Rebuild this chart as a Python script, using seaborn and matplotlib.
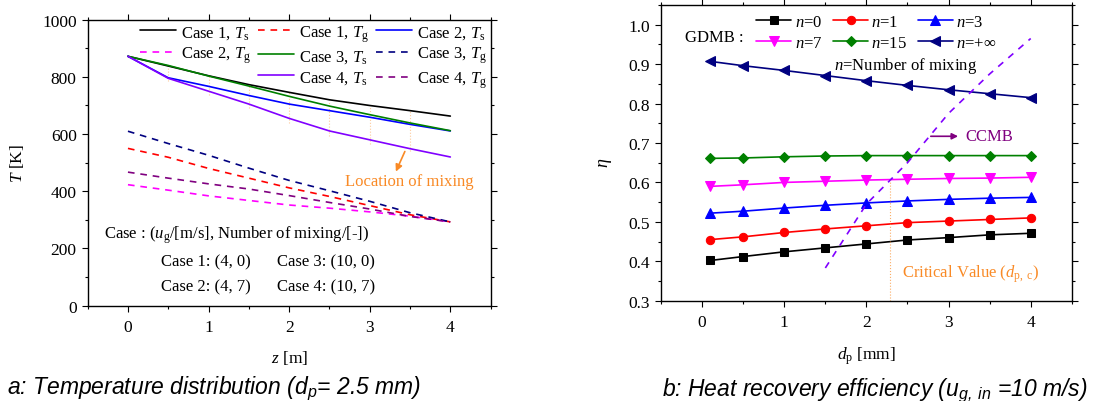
import matplotlib
matplotlib.use("Agg")
import matplotlib.pyplot as plt
from matplotlib.lines import Line2D
from matplotlib.ticker import MultipleLocator
import seaborn as sns

# ---- panel a: temperature along the bed ----
z = [0.0, 0.5, 1.0, 1.5, 2.0, 2.5, 3.0, 3.5, 4.0]
case1_ts = [872, 838, 804, 773, 746, 720, 700, 682, 663]
case2_ts = [872, 797, 767, 735, 705, 682, 659, 634, 611]
case3_ts = [872, 840, 803, 768, 732, 698, 668, 639, 612]
case4_ts = [872, 795, 750, 705, 655, 611, 580, 549, 520]
case1_tg = [550, 519, 480, 446, 412, 382, 350, 318, 293]
case2_tg = [423, 404, 384, 368, 352, 341, 328, 313, 293]
case3_tg = [610, 567, 526, 481, 438, 402, 365, 325, 293]
case4_tg = [467, 446, 426, 408, 385, 361, 338, 312, 293]

mix_z = [0.5, 1.0, 1.5, 2.0, 2.5, 3.0, 3.5]
mix_lo = [785, 738, 690, 640, 595, 565, 540]
mix_hi = [840, 805, 775, 748, 712, 695, 680]

case_ug = [4, 4, 10, 10]
case_nmix = [0, 7, 0, 7]

# ---- panel b: heat recovery efficiency ----
dp = [0.1, 0.5, 1.0, 1.5, 2.0, 2.5, 3.0, 3.5, 4.0]
eta_n0 = [0.402, 0.412, 0.424, 0.434, 0.444, 0.454, 0.460, 0.467, 0.471]
eta_n1 = [0.455, 0.462, 0.473, 0.482, 0.490, 0.498, 0.502, 0.506, 0.510]
eta_n3 = [0.522, 0.527, 0.535, 0.542, 0.548, 0.553, 0.557, 0.560, 0.562]
eta_n7 = [0.590, 0.594, 0.600, 0.603, 0.606, 0.608, 0.610, 0.611, 0.613]
eta_n15 = [0.661, 0.662, 0.665, 0.667, 0.668, 0.668, 0.668, 0.668, 0.668]
eta_ninf = [0.907, 0.896, 0.884, 0.871, 0.858, 0.846, 0.835, 0.825, 0.815]

ccmb_dp = [1.5, 2.0, 2.5, 3.0, 3.5, 4.0]
ccmb_eta = [0.383, 0.545, 0.650, 0.775, 0.875, 0.965]
dp_crit = 2.29
eta_crit = 0.606

ORANGE = '#F98A26'
VIOLET = '#8000FF'

sns.set_style("ticks", rc={"axes.edgecolor": "black", "text.color": "black",
                           "xtick.color": "black", "ytick.color": "black",
                           "axes.labelcolor": "black"})
plt.rcParams['font.family'] = ['Liberation Serif', 'DejaVu Serif']
plt.rcParams['mathtext.fontset'] = 'custom'
plt.rcParams['mathtext.rm'] = 'Liberation Serif'
plt.rcParams['mathtext.it'] = 'Liberation Serif:italic'
plt.rcParams['mathtext.bf'] = 'Liberation Serif:bold'
plt.rcParams['mathtext.sf'] = 'Liberation Sans:italic'
plt.rcParams['axes.linewidth'] = 1.0

fig = plt.figure(figsize=(11.11, 4.02), dpi=100)
ax1 = fig.add_axes([0.0789, 0.2371, 0.3627, 0.7114])
ax2 = fig.add_axes([0.5950, 0.2495, 0.3697, 0.7356])


def style_axes(ax):
    ax.tick_params(which='both', direction='out', top=True, right=True,
                   labeltop=False, labelright=False, labelsize=12.5, width=0.8)
    ax.tick_params(which='major', length=4.3, pad=3.6)
    ax.tick_params(which='minor', length=2.4)
    ax.tick_params(axis='x', which='major', pad=5)


dash = (0, (4, 3.5))
lw = 1.2

# panel a lines
series_a = [
    (case1_ts, 'black', '-', r'Case 1, $T_\mathrm{s}$'),
    (case1_tg, '#FF0000', dash, r'Case 1, $T_\mathrm{g}$'),
    (case2_ts, '#0000FF', '-', r'Case 2, $T_\mathrm{s}$'),
    (case2_tg, '#FF00FF', dash, r'Case 2, $T_\mathrm{g}$'),
    (case3_ts, '#008000', '-', r'Case 3, $T_\mathrm{s}$'),
    (case3_tg, '#000080', dash, r'Case 3, $T_\mathrm{g}$'),
    (case4_ts, VIOLET, '-', r'Case 4, $T_\mathrm{s}$'),
    (case4_tg, '#800080', dash, r'Case 4, $T_\mathrm{g}$'),
]
ax1.vlines(mix_z, mix_lo, mix_hi, colors=ORANGE, linestyles=':', lw=0.8, alpha=0.45)
h = {}
for vals, col, ls, lab in series_a:
    sns.lineplot(x=z, y=vals, ax=ax1, color=col, linestyle=ls, lw=lw, label=lab)
    h[lab] = ax1.lines[-1]

labs = [s[3] for s in series_a]
blank = Line2D([], [], color='none', label=' ')
order = [h[labs[0]], h[labs[3]], blank,
         h[labs[1]], h[labs[4]], h[labs[6]],
         h[labs[2]], h[labs[5]], h[labs[7]]]
ax1.legend(handles=order, labels=[o.get_label() for o in order], ncol=3,
           loc='upper right', bbox_to_anchor=(1.0, 1.0), frameon=False,
           fontsize=12, handlelength=2.15, handletextpad=0.3,
           columnspacing=0.45, labelspacing=0.25, borderpad=0.1, borderaxespad=0.1)

ax1.set_xlim(-0.5, 4.5)
ax1.set_ylim(0, 1000)
ax1.xaxis.set_major_locator(MultipleLocator(1))
ax1.xaxis.set_minor_locator(MultipleLocator(0.5))
ax1.yaxis.set_major_locator(MultipleLocator(200))
ax1.yaxis.set_minor_locator(MultipleLocator(100))
style_axes(ax1)
ax1.set_xlabel(r'$z$ [m]', fontsize=12.5)
ax1.set_ylabel(r'$T$ [K]', fontsize=12.5)
ax1.xaxis.set_label_coords(0.5, -0.148)
ax1.yaxis.set_label_coords(-0.153, 0.5)

ax1.annotate('', xy=(3.31, 460), xytext=(3.45, 548),
             arrowprops=dict(arrowstyle='-|>', color=ORANGE, lw=1.2, mutation_scale=10))
ax1.text(2.69, 437, 'Location of mixing', color=ORANGE, fontsize=12, va='center')

ax1.text(-0.30, 250, r'Case : ($u_\mathrm{g}$/[m/s], Number of mixing/[-])',
         fontsize=12, va='center')
pos = [(0.415, 154), (0.415, 68), (1.85, 154), (1.85, 68)]
for i, (px, py) in enumerate(pos):
    ax1.text(px, py, f'Case {i + 1}: ({case_ug[i]}, {case_nmix[i]})',
             fontsize=12, va='center')

# panel b lines
series_b = [
    (eta_n0, 'black', 's', 5.5, r'$n$=0'),
    (eta_n1, '#FF0000', 'o', 6.0, r'$n$=1'),
    (eta_n3, '#0000FF', '^', 6.5, r'$n$=3'),
    (eta_n7, '#FF00FF', 'v', 6.5, r'$n$=7'),
    (eta_n15, '#008000', 'D', 5.5, r'$n$=15'),
    (eta_ninf, '#000080', '<', 6.5, r'$n$=+∞'),
]
hb = []
for vals, col, mk, ms, lab in series_b:
    sns.lineplot(x=dp, y=vals, ax=ax2, color=col, lw=lw, marker=mk, markersize=ms,
                 markeredgecolor=col, markerfacecolor=col, label=lab)
    hb.append(ax2.lines[-1])

sns.lineplot(x=ccmb_dp, y=ccmb_eta, ax=ax2, color=VIOLET, lw=1.2,
             linestyle=(0, (4, 4)))
ax2.vlines(dp_crit, 0.3, eta_crit, colors=ORANGE, linestyles=':', lw=0.8, alpha=0.7)

ordb = [hb[0], hb[3], hb[1], hb[4], hb[2], hb[5]]
ax2.legend(handles=ordb, labels=[o.get_label() for o in ordb], ncol=3,
           loc='upper left', bbox_to_anchor=(0.228, 0.975), frameon=False,
           fontsize=12, handlelength=2.1, handletextpad=0.2,
           columnspacing=0.65, labelspacing=0.3, borderpad=0.1, borderaxespad=0.0)
ax2.text(-0.205, 0.970, 'GDMB :', fontsize=12, va='center')
ax2.text(1.61, 0.898, r'$n$=Number of mixing', fontsize=12, va='center')

ax2.annotate('', xy=(3.15, 0.717), xytext=(2.75, 0.717),
             arrowprops=dict(arrowstyle='-|>', color='#800080', lw=1.2, mutation_scale=9))
ax2.text(3.21, 0.717, 'CCMB', color='#800080', fontsize=12, va='center')
ax2.text(2.43, 0.37, r'Critical Value ($d_\mathrm{p,\ c}$)', color=ORANGE,
         fontsize=12, va='center')

ax2.set_xlim(-0.5, 4.5)
ax2.set_ylim(0.3, 1.05)
ax2.xaxis.set_major_locator(MultipleLocator(1))
ax2.xaxis.set_minor_locator(MultipleLocator(0.5))
ax2.yaxis.set_major_locator(MultipleLocator(0.1))
ax2.yaxis.set_minor_locator(MultipleLocator(0.05))
ax2.yaxis.set_major_formatter(plt.FormatStrFormatter('%.1f'))
style_axes(ax2)
ax2.set_xlabel(r'$d_\mathrm{p}$ [mm]', fontsize=12.5)
ax2.set_ylabel(r'$\eta$', fontsize=13)
ax2.xaxis.set_label_coords(0.5, -0.148)
ax2.yaxis.set_label_coords(-0.114, 0.47)

cap = dict(fontsize=16.5, family='Liberation Sans', style='italic', va='center')
fig.text(0.006, 1 - 388 / 402, r'a: Temperature distribution (d$_\mathsf{p}$= 2.5 mm)', **cap)
fig.text(0.5960, 1 - 390 / 402, r'b: Heat recovery efficiency (u$_\mathsf{g,\ in}$ =10 m/s)', **cap)

fig.savefig('out.png', dpi=100)
